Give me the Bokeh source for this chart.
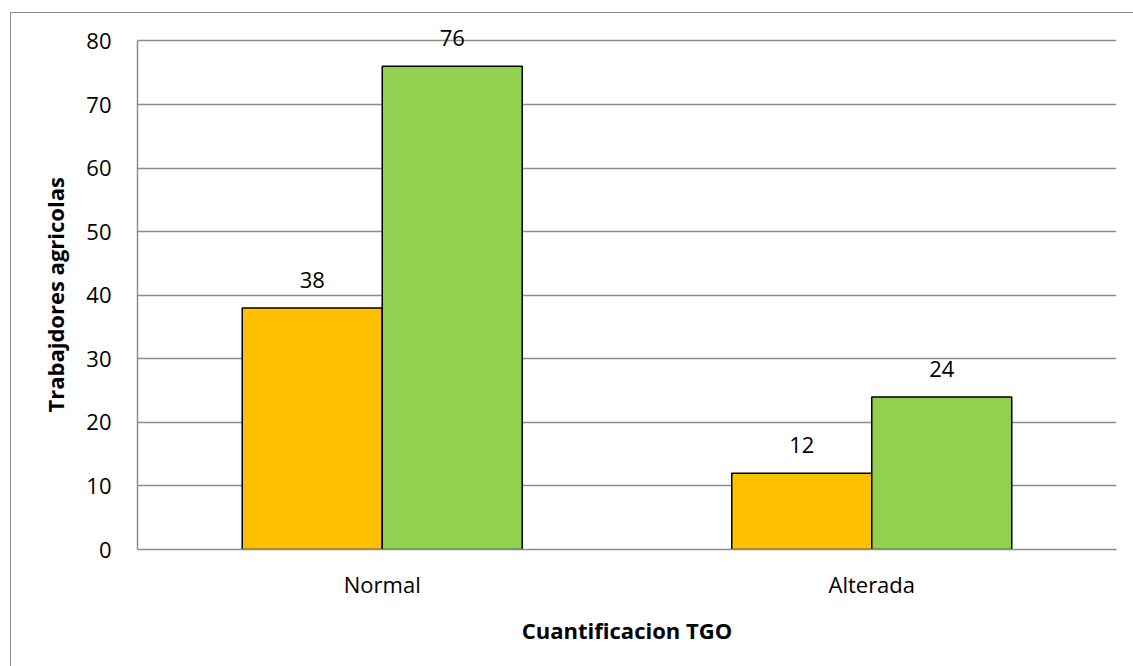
from bokeh.plotting import figure
from bokeh.models import ColumnDataSource, FixedTicker, Label, Range1d, Title
from bokeh.embed import file_html
from bokeh.resources import INLINE

# Categories and values for the two groups of bars
categorias = ["Normal", "Alterada"]
grupo_amarillo = [38, 12]
grupo_verde = [76, 24]
ticks_y = [0, 10, 20, 30, 40, 50, 60, 70, 80]

titulo_x = "Cuantificacion TGO"
titulo_y = "Trabajdores agricolas"

FONT = "Open Sans"
AMARILLO = "#FFC000"
VERDE = "#92D050"
GRIS = "#8C8C8C"

# Each category occupies one unit on the x scale, centred on i + 0.5
centros = [i + 0.5 for i in range(len(categorias))]
ancho = 0.286
desp = 0.143

source = ColumnDataSource(data=dict(
    x_amarillo=[c - desp for c in centros],
    x_verde=[c + desp for c in centros],
    amarillo=grupo_amarillo,
    verde=grupo_verde,
))

# The frame reaches a little above the last gridline so the top value label has room
p = figure(
    width=1123, height=654,
    x_range=Range1d(0, len(categorias)),
    y_range=Range1d(0, 84),
    output_backend="svg", toolbar_location=None,
    min_border_left=126, min_border_top=2, min_border_right=18, min_border_bottom=118,
)
p.margin = (12, 0, 0, 10)
p.styles = {"border-left": f"1.5px solid {GRIS}", "border-top": f"1.5px solid {GRIS}"}

p.vbar(x="x_amarillo", top="amarillo", width=ancho, source=source,
       fill_color=AMARILLO, line_color="black", line_width=1.5)
p.vbar(x="x_verde", top="verde", width=ancho, source=source,
       fill_color=VERDE, line_color="black", line_width=1.5)

# Value labels above each bar
for xs, ys in ((source.data["x_amarillo"], grupo_amarillo), (source.data["x_verde"], grupo_verde)):
    for xv, yv in zip(xs, ys):
        p.add_layout(Label(
            x=xv, y=yv, text=str(yv), y_offset=28,
            text_align="center", text_baseline="alphabetic",
            text_font=FONT, text_font_size="22px", text_color="black",
        ))

# Axes
p.yaxis.ticker = FixedTicker(ticks=ticks_y)
p.yaxis.bounds = (ticks_y[0], ticks_y[-1])
p.xaxis.ticker = FixedTicker(ticks=centros)
p.xaxis.major_label_overrides = {c: nombre for c, nombre in zip(centros, categorias)}
for ax in (p.xaxis[0], p.yaxis[0]):
    ax.axis_line_color = GRIS
    ax.axis_line_width = 1.5
    ax.major_tick_line_color = None
    ax.minor_tick_line_color = None
    ax.major_tick_out = 0
    ax.major_tick_in = 0
    ax.major_label_text_font = FONT
    ax.major_label_text_font_size = "22px"
    ax.major_label_text_color = "black"
    ax.axis_label_text_font = FONT
    ax.axis_label_text_font_size = "22px"
    ax.axis_label_text_font_style = "bold"
    ax.axis_label_text_color = "black"

p.yaxis.major_label_standoff = 26
p.xaxis.axis_label = titulo_x
p.xaxis.major_label_standoff = 19
p.xaxis.axis_label_standoff = 13

# Vertical title, centred on the 0-80 span rather than on the whole frame
p.add_layout(Title(
    text=titulo_y, align="left", offset=137, standoff=28,
    text_font=FONT, text_font_size="22px", text_font_style="bold", text_color="black",
), "left")

p.xgrid.grid_line_color = None
p.ygrid.grid_line_color = GRIS
p.ygrid.grid_line_width = 1.3
p.outline_line_color = None
p.background_fill_color = "white"
p.border_fill_color = "white"

open("out.html", "w").write(file_html(p, INLINE))
